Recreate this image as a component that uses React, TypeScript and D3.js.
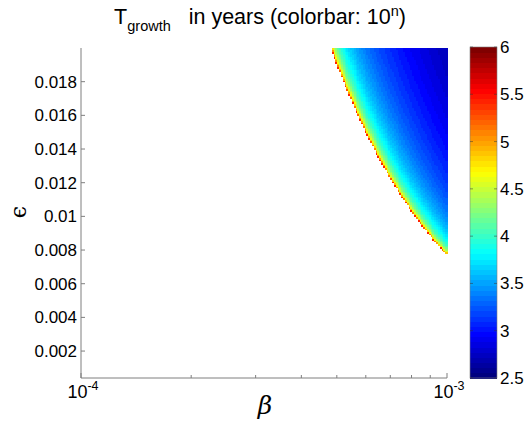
import React from "react";
import * as d3 from "d3";

// ---- data ----
const betaDomain = [1e-4, 1e-3];
const epsDomain = [0.0004, 0.02];
const betaMajorTicks = [1e-4, 1e-3];
const betaMinorTicks = [2e-4, 3e-4, 4e-4, 5e-4, 6e-4, 7e-4, 8e-4, 9e-4];
const betaTickExp = ["-4", "-3"];
const epsTicks = [0.002, 0.004, 0.006, 0.008, 0.01, 0.012, 0.014, 0.016, 0.018];
const epsTickLabels = ["0.002", "0.004", "0.006", "0.008", "0.01", "0.012", "0.014", "0.016", "0.018"];
const cbarDomain = [2.5, 6];
const cbarTicks = [2.5, 3, 3.5, 4, 4.5, 5, 5.5, 6];
const cbarTickLabels = ["2.5", "3", "3.5", "4", "4.5", "5", "5.5", "6"];
// growth boundary (where T_growth -> infinity), read at the top and right edge
const boundaryBeta = [4.85e-4, 1e-3];
const boundaryEps = [0.02, 0.00782];
// log10 T_growth at the top-right corner, and just inside the boundary on the top row
const cornerLogT = 2.72;
const cyanLogT = 3.8;
const cyanBetaTop = 5.3e-4;
const boundaryCapLogT = 5.45;

function jet(v: number): string {
  const t0 = (v - cbarDomain[0]) / (cbarDomain[1] - cbarDomain[0]);
  const idx = Math.max(0, Math.min(63, Math.floor(t0 * 64)));
  const t = idx / 63;
  const c = (x: number) => Math.round(255 * Math.max(0, Math.min(1, x)));
  const r = c(1.5 - Math.abs(4 * t - 3));
  const g = c(1.5 - Math.abs(4 * t - 2));
  const b = c(1.5 - Math.abs(4 * t - 1));
  return `rgb(${r},${g},${b})`;
}

export default function App() {
  const W = 528, H = 427;
  const L = 81, R = 447, T = 48, B = 378;
  const x = d3.scaleLog().domain(betaDomain).range([L, R]);
  const y = d3.scaleLinear().domain(epsDomain).range([B, T]);

  const q = Math.log(boundaryBeta[1] / boundaryBeta[0]) / Math.log(boundaryEps[0] / boundaryEps[1]);
  const g0 = boundaryBeta[0] * Math.pow(boundaryEps[0], q);
  const cornerRatio = (betaDomain[1] * Math.pow(epsDomain[1], q)) / g0;
  const cyanRatio = cyanBetaTop / boundaryBeta[0];
  const p = (cyanLogT - cornerLogT) / Math.log10((cornerRatio - 1) / (cyanRatio - 1));
  const logA = cornerLogT + p * Math.log10(cornerRatio - 1);

  const nb = 200;
  const epsStep = 0.0001;
  const ne = Math.round((epsDomain[1] - epsDomain[0]) / epsStep);
  const cells: { x: number; y: number; w: number; h: number; c: string }[] = [];
  const lb0 = Math.log10(betaDomain[0]), lb1 = Math.log10(betaDomain[1]);
  for (let i = 0; i < nb; i++) {
    const la = lb0 + ((lb1 - lb0) * i) / nb;
    const lbn = lb0 + ((lb1 - lb0) * (i + 1)) / nb;
    const beta = Math.pow(10, lbn);
    if (beta < boundaryBeta[0] * 0.95) continue;
    for (let j = 0; j < ne; j++) {
      const e0 = epsDomain[0] + j * epsStep;
      const e1 = e0 + epsStep;
      const ratio = (beta * Math.pow(e1, q)) / g0;
      if (ratio <= 1) continue;
      let lt = logA - p * Math.log10(ratio - 1);
      lt = Math.min(lt, boundaryCapLogT);
      const x0 = x(Math.pow(10, la)), x1 = x(Math.pow(10, lbn));
      const y0 = y(e1), y1 = y(e0);
      cells.push({ x: x0, y: y0, w: x1 - x0 + 0.6, h: y1 - y0 + 0.6, c: jet(lt) });
    }
  }

  const cbL = 470, cbR = 497;
  const cy = d3.scaleLinear().domain(cbarDomain).range([B, T - 1]);
  const cbLevels = d3.range(64);
  const font = "'Liberation Sans', Arial, sans-serif";
  const axisColor = "#7f7f7f";

  return (
    <svg width={W} height={H} style={{ position: "absolute", left: 0, top: 0, background: "#fff" }} fontFamily={font}>
      <rect x={0} y={0} width={W} height={H} fill="#fff" />
      <g shapeRendering="crispEdges">
        {cells.map((d, k) => (
          <rect key={k} x={d.x} y={d.y} width={d.w} height={d.h} fill={d.c} />
        ))}
      </g>
      {/* axes */}
      <line x1={L} y1={T} x2={L} y2={B} stroke={axisColor} strokeWidth={1} />
      <line x1={L} y1={B} x2={R} y2={B} stroke={axisColor} strokeWidth={1} />
      {epsTicks.map((t, k) => (
        <g key={k}>
          <line x1={L} x2={L + 4} y1={y(t)} y2={y(t)} stroke={axisColor} />
          <text x={L - 4} y={y(t) + 6} textAnchor="end" fontSize={17} fill="#000">
            {epsTickLabels[k]}
          </text>
        </g>
      ))}
      {betaMinorTicks.map((t, k) => (
        <line key={k} x1={x(t)} x2={x(t)} y1={B} y2={B - 3} stroke={axisColor} />
      ))}
      {betaMajorTicks.map((t, k) => (
        <g key={k}>
          <line x1={x(t)} x2={x(t)} y1={B} y2={B - 5} stroke={axisColor} />
          <text x={x(t) + 2} y={398} textAnchor="middle" fontSize={18} fill="#000">
            10
            <tspan dy={-8} fontSize={12.5}>
              {betaTickExp[k]}
            </tspan>
          </text>
        </g>
      ))}
      <text x={265} y={414} textAnchor="middle" fontSize={25} fontStyle="italic" fontFamily="'DejaVu Serif', serif" fill="#000">
        β
      </text>
      <text
        transform={`translate(26,${212}) rotate(-90)`}
        textAnchor="middle"
        fontSize={22}
        fontFamily="'DejaVu Serif', serif"
        fill="#000"
      >
        ϵ
      </text>
      {/* title */}
      <text x={260} y={24} textAnchor="middle" fontSize={21.5} fill="#000">
        T
        <tspan dy={7} fontSize={14.5}>
          growth
        </tspan>
        <tspan dy={-7}>{"\u00a0\u00a0\u00a0in years (colorbar: 10"}</tspan>
        <tspan dy={-8} fontSize={14.5}>
          n
        </tspan>
        <tspan dy={8}>)</tspan>
      </text>
      {/* colorbar */}
      <g shapeRendering="crispEdges">
        {cbLevels.map((i) => {
          const v0 = cbarDomain[0] + ((cbarDomain[1] - cbarDomain[0]) * i) / 64;
          const v1 = cbarDomain[0] + ((cbarDomain[1] - cbarDomain[0]) * (i + 1)) / 64;
          return (
            <rect key={i} x={cbL} y={cy(v1)} width={cbR - cbL} height={cy(v0) - cy(v1) + 0.6} fill={jet((v0 + v1) / 2)} />
          );
        })}
      </g>
      <rect x={cbL} y={cy(cbarDomain[1])} width={cbR - cbL} height={cy(cbarDomain[0]) - cy(cbarDomain[1])} fill="none" stroke={axisColor} strokeWidth={0.6} />
      {cbarTicks.map((t, k) => (
        <g key={k}>
          <line x1={cbL} x2={cbL + 3} y1={cy(t)} y2={cy(t)} stroke="#333" strokeOpacity={0.5} />
          <line x1={cbR} x2={cbR - 3} y1={cy(t)} y2={cy(t)} stroke="#333" strokeOpacity={0.5} />
          <text x={cbR + 3} y={cy(t) + 6} fontSize={17} fill="#000">
            {cbarTickLabels[k]}
          </text>
        </g>
      ))}
    </svg>
  );
}
